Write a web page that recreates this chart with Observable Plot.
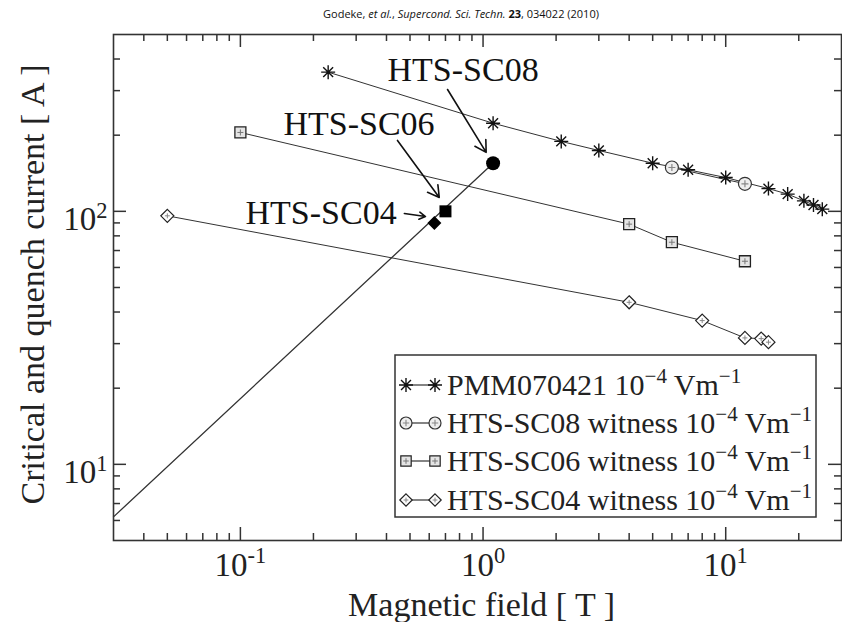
<!DOCTYPE html>
<html><head><meta charset="utf-8">
<script src="https://cdn.jsdelivr.net/npm/d3@7"></script>
<script src="https://cdn.jsdelivr.net/npm/@observablehq/plot@0.6"></script>
<style>
body{margin:0;background:#fff;}
#title{height:28px;position:relative;font-family:'Open Sans',sans-serif;font-size:11px;color:#111;}
#title span{position:absolute;left:461px;top:6px;transform:translateX(-50%);white-space:nowrap;}
</style></head><body>
<div id="title"><span>Godeke, <i>et al.</i>, <i>Supercond. Sci. Techn.</i> <b>23</b>, 034022 (2010)</span></div>
<div id="chart"></div>
<script>
// ---- data (magnetic field B in T, current I in A) ----
const pmmB  = [0.23, 1.1, 2.1, 3, 5, 7, 10, 15, 18, 21, 23, 25];
const pmmI  = [355, 223, 189, 174, 155, 146, 136, 123, 117, 110, 106, 102];
const sc08B = [6, 12];
const sc08I = [149, 128.5];
const sc06B = [0.1, 4, 6, 12];
const sc06I = [205, 89, 75.5, 63.5];
const sc04B = [0.05, 4, 8, 12, 14, 15];
const sc04I = [96, 43.7, 37, 31.6, 31.4, 30.4];
// quench points (filled markers) and load line
const quenchNames = ["HTS-SC08", "HTS-SC06", "HTS-SC04"];
const quenchB = [1.1, 0.7, 0.63];
const quenchI = [155, 100, 90];
const loadB = [0.03, 1.1];
const loadI = [6.2, 155];
// annotation labels (left edge, vertical centre) and arrows, in data units
const annotX = [0.404, 0.1505, 0.105];
const annotY = [360, 222, 98.5];
const arrowX1 = [0.714, 0.444, 0.474];
const arrowY1 = [303, 190.6, 98];
const arrowX2 = [1.03, 0.66, 0.579];
const arrowY2 = [171, 113.5, 95.4];
// legend
const legendNames = ["PMM070421", "HTS-SC08 witness", "HTS-SC06 witness", "HTS-SC04 witness"];
// ticks
const xMajor = [0.1, 1, 10];
const xMinor = [0.04,0.05,0.06,0.07,0.08,0.09,0.2,0.3,0.4,0.5,0.6,0.7,0.8,0.9,2,3,4,5,6,7,8,9,20];
const yMajor = [10, 100];
const yMinor = [6,7,8,9,20,30,40,50,60,70,80,90,200,300,400];

const rows = (B, I) => B.map((b, i) => ({B: b, I: I[i]}));
const pmm = rows(pmmB, pmmI), sc08 = rows(sc08B, sc08I), sc06 = rows(sc06B, sc06I), sc04 = rows(sc04B, sc04I);
const load = rows(loadB, loadI);
const quench = quenchNames.map((n, i) => ({name: n, B: quenchB[i], I: quenchI[i]}));
const annots = quenchNames.map((n, i) => ({name: n, x: annotX[i], y: annotY[i]}));
const arrows = quenchNames.map((n, i) => ({x1: arrowX1[i], y1: arrowY1[i], x2: arrowX2[i], y2: arrowY2[i]}));

// custom symbols: r = sqrt(size/pi) is the half-extent
const rad = s => Math.sqrt(s / Math.PI);
const asterisk = {draw(c, s){ const r = rad(s); for (let k = 0; k < 4; k++){ const a = k*Math.PI/4; c.moveTo(r*Math.cos(a), r*Math.sin(a)); c.lineTo(-r*Math.cos(a), -r*Math.sin(a)); } }};
const sq = {draw(c, s){ const r = rad(s); c.moveTo(-r,-r); c.lineTo(r,-r); c.lineTo(r,r); c.lineTo(-r,r); c.closePath(); }};
const dia = {draw(c, s){ const r = rad(s); c.moveTo(0,-r); c.lineTo(r,0); c.lineTo(0,r); c.lineTo(-r,0); c.closePath(); }};
const circ = {draw(c, s){ const r = rad(s); c.moveTo(r,0); c.arc(0,0,r,0,2*Math.PI); }};
const cross = {draw(c, s){ const r = rad(s); c.moveTo(-r,0); c.lineTo(r,0); c.moveTo(0,-r); c.lineTo(0,r); }};

const W = 842, H = 594, mt = 6, mb = 82, ml = 113, mr = 1;
const fw = W - ml - mr, fh = H - mt - mb;
const serif = "'Liberation Serif','Times New Roman',serif";
const ink = "#222";

const svg = Plot.plot({
  width: W, height: H,
  marginTop: mt, marginBottom: mb, marginLeft: ml, marginRight: mr,
  x: {type: "log", domain: [0.03, 30], axis: null},
  y: {type: "log", domain: [5, 500], axis: null},
  style: {fontFamily: serif, background: "white", color: ink, overflow: "visible"},
  marks: [
    // ticks on all four sides, pointing inward
    Plot.tickX(xMajor, {x: d => d, insetTop: fh - 13, stroke: "#333", strokeWidth: 1.5}),
    Plot.tickX(xMinor, {x: d => d, insetTop: fh - 7, stroke: "#333", strokeWidth: 1.5}),
    Plot.tickX(xMajor, {x: d => d, insetBottom: fh - 13, stroke: "#333", strokeWidth: 1.5}),
    Plot.tickX(xMinor, {x: d => d, insetBottom: fh - 7, stroke: "#333", strokeWidth: 1.5}),
    Plot.tickY(yMajor, {y: d => d, insetRight: fw - 13, stroke: "#333", strokeWidth: 1.5}),
    Plot.tickY(yMinor, {y: d => d, insetRight: fw - 7, stroke: "#333", strokeWidth: 1.5}),
    Plot.tickY(yMajor, {y: d => d, insetLeft: fw - 13, stroke: "#333", strokeWidth: 1.5}),
    Plot.tickY(yMinor, {y: d => d, insetLeft: fw - 7, stroke: "#333", strokeWidth: 1.5}),
    // tick labels
    Plot.text(xMajor, {x: d => d, text: d => "10^" + Math.round(Math.log10(d)), frameAnchor: "bottom", lineAnchor: "bottom", dy: 35, fontSize: 33, fill: ink}),
    Plot.text(yMajor, {y: d => d, text: d => "10^" + Math.round(Math.log10(d)), frameAnchor: "left", textAnchor: "end", lineAnchor: "bottom", dx: -6, dy: 19, fontSize: 33, fill: ink}),
    // axis titles
    Plot.text(["Magnetic field [ T ]"], {frameAnchor: "bottom", lineAnchor: "bottom", dy: 75, dx: 4, fontSize: 34, fill: ink}),
    Plot.text(["Critical and quench current [ A ]"], {frameAnchor: "left", textAnchor: "middle", rotate: -90, dx: -80, dy: -3, fontSize: 34, fill: ink}),
    // load line
    Plot.line(load, {x: "B", y: "I", stroke: "#333", strokeWidth: 1.3}),
    // series lines
    Plot.line(pmm, {x: "B", y: "I", stroke: "#333", strokeWidth: 1}),
    Plot.line(sc08, {x: "B", y: "I", stroke: "#333", strokeWidth: 1}),
    Plot.line(sc06, {x: "B", y: "I", stroke: "#333", strokeWidth: 1}),
    Plot.line(sc04, {x: "B", y: "I", stroke: "#333", strokeWidth: 1}),
    // series markers
    Plot.dot(pmm, {x: "B", y: "I", symbol: asterisk, r: 7, stroke: "#111", strokeWidth: 1.4, fill: "none"}),
    Plot.dot(sc08, {x: "B", y: "I", symbol: circ, r: 6.5, stroke: "#333", strokeWidth: 1.2, fill: "#eee"}),
    Plot.dot(sc08, {x: "B", y: "I", symbol: cross, r: 3.5, stroke: "#888", strokeWidth: 1.2}),
    Plot.dot(sc06, {x: "B", y: "I", symbol: sq, r: 5.5, stroke: "#222", strokeWidth: 1.3, fill: "#e4e4e4"}),
    Plot.dot(sc06, {x: "B", y: "I", symbol: cross, r: 3, stroke: "#777", strokeWidth: 1}),
    Plot.dot(sc04, {x: "B", y: "I", symbol: dia, r: 6.5, stroke: "#222", strokeWidth: 1.2, fill: "white"}),
    Plot.dot(sc04, {x: "B", y: "I", symbol: cross, r: 2.5, stroke: "#888", strokeWidth: 1}),
    // quench points
    Plot.dot([quench[0]], {x: "B", y: "I", symbol: circ, r: 7, fill: "#000"}),
    Plot.dot([quench[1]], {x: "B", y: "I", symbol: sq, r: 6, fill: "#000"}),
    Plot.dot([quench[2]], {x: "B", y: "I", symbol: dia, r: 7, fill: "#000"}),
    // annotations
    Plot.text(annots, {x: "x", y: "y", text: "name", textAnchor: "start", fontSize: 34, fill: "#111"}),
    Plot.arrow(arrows, {x1: "x1", y1: "y1", x2: "x2", y2: "y2", stroke: "#111", strokeWidth: 1.6, headLength: 12}),
    Plot.frame({stroke: "#333", strokeWidth: 1.6})
  ]
});

// superscripts in tick labels
d3.select(svg).selectAll("text").each(function () {
  const m = this.textContent.match(/^(10)\^(-?\d+)$/);
  if (!m) return;
  const s = d3.select(this);
  s.selectAll("*").remove();
  s.text(m[1]);
  s.append("tspan").attr("dy", "-0.55em").attr("font-size", "0.68em").text(m[2]);
});

// legend
const L = {x0: 395, x1: 816, y0: 327, y1: 489, base: [367, 405, 443, 482]};
const lg = d3.select(svg).append("g").attr("font-family", serif).attr("fill", ink).attr("text-anchor", "start");
lg.append("rect").attr("x", L.x0).attr("y", L.y0).attr("width", L.x1 - L.x0).attr("height", L.y1 - L.y0)
  .attr("fill", "white").attr("stroke", "#333").attr("stroke-width", 1.5);
const legendSyms = [
  [{sym: asterisk, r: 7, stroke: "#111", fill: "none", sw: 1.4}],
  [{sym: circ, r: 6, stroke: "#333", fill: "#eee", sw: 1.2}, {sym: cross, r: 3.2, stroke: "#888", fill: "none", sw: 1.1}],
  [{sym: sq, r: 5.2, stroke: "#222", fill: "#e4e4e4", sw: 1.2}, {sym: cross, r: 2.8, stroke: "#777", fill: "none", sw: 1}],
  [{sym: dia, r: 6.2, stroke: "#222", fill: "white", sw: 1.2}, {sym: cross, r: 2.4, stroke: "#888", fill: "none", sw: 1}]
];
legendNames.forEach((name, i) => {
  const b = L.base[i], cy = b - 10;
  lg.append("line").attr("x1", 406).attr("x2", 435).attr("y1", cy).attr("y2", cy).attr("stroke", "#333").attr("stroke-width", 1.2);
  [406, 435].forEach(cx => legendSyms[i].forEach(m => {
    lg.append("path").attr("transform", `translate(${cx},${cy})`)
      .attr("d", d3.symbol(m.sym, m.r * m.r * Math.PI)())
      .attr("fill", m.fill).attr("stroke", m.stroke).attr("stroke-width", m.sw);
  }));
  const t = lg.append("text").attr("x", 447).attr("y", b).attr("font-size", 30).attr("text-anchor", "start").style("white-space", "pre");
  t.append("tspan").text(name + " 10");
  t.append("tspan").attr("dy", -12).attr("font-size", 21).text("\u22124");
  t.append("tspan").attr("dy", 12).text(" Vm");
  t.append("tspan").attr("dy", -12).attr("font-size", 21).text("\u22121");
});

document.getElementById("chart").appendChild(svg);
</script>
</body></html>
